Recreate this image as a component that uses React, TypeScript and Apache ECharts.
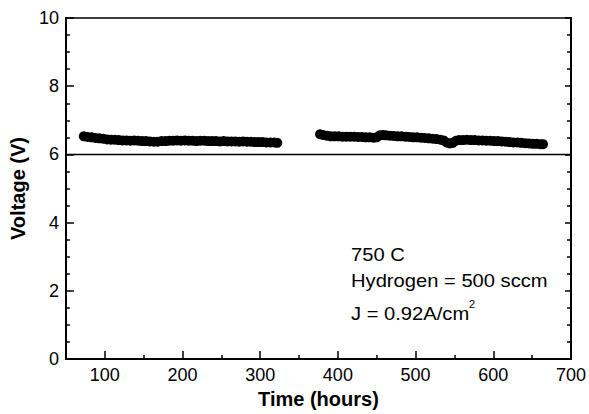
import React, { useEffect, useRef } from "react";
import * as echarts from "echarts";

// Run 1 (before the gap)
const run1Time = [73, 78, 83, 88, 93, 98, 103, 108, 113, 118, 123, 128, 133, 138, 143, 148, 153, 158, 163, 168, 173, 178, 183, 188, 193, 198, 203, 208, 213, 218, 223, 228, 233, 238, 243, 248, 253, 258, 263, 268, 273, 278, 283, 288, 293, 298, 303, 308, 313, 318, 322];
const run1Voltage = [6.53, 6.51, 6.5, 6.48, 6.47, 6.46, 6.44, 6.43, 6.43, 6.42, 6.41, 6.41, 6.4, 6.41, 6.4, 6.39, 6.39, 6.38, 6.37, 6.37, 6.39, 6.39, 6.4, 6.4, 6.41, 6.4, 6.41, 6.4, 6.4, 6.39, 6.4, 6.4, 6.39, 6.39, 6.39, 6.38, 6.39, 6.38, 6.38, 6.38, 6.37, 6.38, 6.37, 6.37, 6.36, 6.36, 6.36, 6.35, 6.35, 6.35, 6.34];

// Run 2 (after the gap)
const run2Time = [377, 381, 386, 391, 396, 401, 406, 411, 416, 421, 426, 431, 436, 441, 446, 450, 454, 458, 462, 467, 472, 477, 482, 487, 492, 497, 502, 507, 512, 517, 522, 527, 532, 536, 540, 544, 548, 552, 556, 561, 566, 571, 576, 581, 586, 591, 596, 601, 606, 611, 616, 621, 626, 631, 636, 641, 646, 651, 656, 661, 664];
const run2Voltage = [6.59, 6.57, 6.55, 6.53, 6.53, 6.53, 6.52, 6.52, 6.52, 6.52, 6.51, 6.51, 6.5, 6.5, 6.49, 6.5, 6.56, 6.57, 6.56, 6.55, 6.54, 6.53, 6.53, 6.52, 6.51, 6.5, 6.5, 6.49, 6.48, 6.47, 6.46, 6.45, 6.43, 6.41, 6.35, 6.32, 6.34, 6.4, 6.42, 6.42, 6.43, 6.42, 6.42, 6.41, 6.41, 6.4, 6.4, 6.39, 6.39, 6.38, 6.37, 6.36, 6.35, 6.35, 6.34, 6.33, 6.32, 6.31, 6.31, 6.3, 6.3];

const referenceVoltage = 6;

const xMajorTicks = [100, 200, 300, 400, 500, 600, 700];
const xMinorTicks = [150, 250, 350, 450, 550, 650];
const xMin = 50;
const xMax = 700;
const yMin = 0;
const yMax = 10;
const yInterval = 2;

const annotationLines = ["750 C", "Hydrogen = 500 sccm", "J = 0.92A/cm"];

const FONT = "'Liberation Sans', Arial, sans-serif";

export default function App() {
  const ref = useRef<HTMLDivElement>(null);

  useEffect(() => {
    document.body.style.margin = "0";
    if (!ref.current) return;
    const chart = echarts.init(ref.current, null, { renderer: "svg" });

    const axisLineStyle = { color: "#000", width: 2 };
    const tickStyle = { color: "#000", width: 1.5 };
    const dotStyle = { color: "#000", opacity: 1 };

    const option: any = {
      animation: false,
      backgroundColor: "#fff",
      textStyle: { fontFamily: FONT },
      grid: {
        left: 60,
        right: 16,
        top: 18,
        bottom: 51,
        show: true,
        borderColor: "#000",
        borderWidth: 1.5,
        backgroundColor: "transparent",
      },
      xAxis: [
        {
          type: "value",
          position: "bottom",
          min: xMin,
          max: xMax,
          name: "Time (hours)",
          nameLocation: "middle",
          nameGap: 30,
          nameTextStyle: { fontFamily: FONT, fontSize: 20, fontWeight: "bold", color: "#000" },
          axisLine: { show: true, lineStyle: axisLineStyle },
          axisTick: { show: true, inside: true, length: 8, customValues: xMajorTicks, lineStyle: tickStyle },
          axisLabel: { show: true, customValues: xMajorTicks, fontFamily: FONT, fontSize: 18, color: "#000", margin: 7 },
          splitLine: { show: false },
        },
        {
          type: "value",
          position: "bottom",
          min: xMin,
          max: xMax,
          axisLine: { show: false },
          axisTick: { show: true, inside: true, length: 4, customValues: xMinorTicks, lineStyle: tickStyle },
          axisLabel: { show: false },
          splitLine: { show: false },
        },
      ],
      yAxis: [
        {
          type: "value",
          position: "left",
          min: yMin,
          max: yMax,
          interval: yInterval,
          name: "Voltage (V)",
          nameLocation: "middle",
          nameGap: 29,
          nameTextStyle: { fontFamily: FONT, fontSize: 20, fontWeight: "bold", color: "#000" },
          axisLine: { show: true, lineStyle: axisLineStyle },
          axisTick: { show: true, inside: true, length: 8, lineStyle: tickStyle },
          minorTick: { show: true, splitNumber: 4, length: 4, lineStyle: tickStyle },
          axisLabel: { fontFamily: FONT, fontSize: 18, color: "#000", margin: 7 },
          splitLine: { show: false },
        },
        {
          type: "value",
          position: "right",
          min: yMin,
          max: yMax,
          interval: yInterval,
          axisLine: { show: true, lineStyle: axisLineStyle },
          axisTick: { show: true, inside: true, length: 6, lineStyle: tickStyle },
          minorTick: { show: true, splitNumber: 4, length: 4, lineStyle: tickStyle },
          axisLabel: { show: false },
          splitLine: { show: false },
        },
      ],
      series: [
        {
          type: "scatter",
          xAxisIndex: 0,
          yAxisIndex: 0,
          symbol: "circle",
          symbolSize: 10,
          itemStyle: dotStyle,
          data: run1Time.map((t, i) => [t, run1Voltage[i]]),
          markLine: {
            silent: true,
            symbol: "none",
            label: { show: false },
            lineStyle: { color: "#000", width: 1.3, type: "solid" },
            data: [{ yAxis: referenceVoltage }],
          },
        },
        {
          type: "scatter",
          xAxisIndex: 0,
          yAxisIndex: 0,
          symbol: "circle",
          symbolSize: 10,
          itemStyle: dotStyle,
          data: run2Time.map((t, i) => [t, run2Voltage[i]]),
        },
      ],
      graphic: [
        {
          type: "text",
          x: 351,
          y: 254.5,
          scaleX: 1.12,
          style: { text: annotationLines[0], fontFamily: FONT, fontSize: 18, fill: "#000", verticalAlign: "middle", align: "left" },
        },
        {
          type: "text",
          x: 351,
          y: 281,
          scaleX: 1.12,
          style: { text: annotationLines[1], fontFamily: FONT, fontSize: 18, fill: "#000", verticalAlign: "middle", align: "left" },
        },
        {
          type: "text",
          x: 351,
          y: 313.5,
          scaleX: 1.12,
          style: { text: annotationLines[2], fontFamily: FONT, fontSize: 18, fill: "#000", verticalAlign: "middle", align: "left" },
        },
        {
          type: "text",
          x: 469,
          y: 304,
          style: { text: "2", fontFamily: FONT, fontSize: 11, fill: "#000", verticalAlign: "middle", align: "left" },
        },
      ],
    };

    chart.setOption(option);
    return () => chart.dispose();
  }, []);

  return <div ref={ref} style={{ width: 589, height: 414 }} />;
}
